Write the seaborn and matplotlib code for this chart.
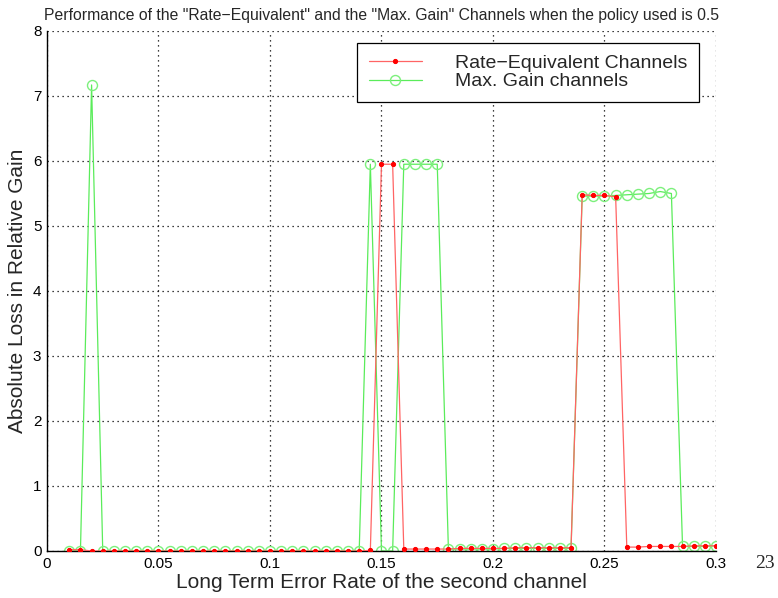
import matplotlib
matplotlib.use("Agg")
import matplotlib.pyplot as plt
import seaborn as sns
import pandas as pd

# Long-term error rate of the second channel
error_rate = [
    0.010, 0.015, 0.020, 0.025, 0.030, 0.035, 0.040, 0.045, 0.050, 0.055,
    0.060, 0.065, 0.070, 0.075, 0.080, 0.085, 0.090, 0.095, 0.100, 0.105,
    0.110, 0.115, 0.120, 0.125, 0.130, 0.135, 0.140, 0.145, 0.150, 0.155,
    0.160, 0.165, 0.170, 0.175, 0.180, 0.185, 0.190, 0.195, 0.200, 0.205,
    0.210, 0.215, 0.220, 0.225, 0.230, 0.235, 0.240, 0.245, 0.250, 0.255,
    0.260, 0.265, 0.270, 0.275, 0.280, 0.285, 0.290, 0.295, 0.300,
]

# Absolute loss in relative gain, rate-equivalent channels
rate_equivalent = [
    0.02, 0.02, 0.00, 0.00, 0.00, 0.00, 0.00, 0.00, 0.00, 0.00,
    0.00, 0.00, 0.00, 0.00, 0.00, 0.00, 0.00, 0.00, 0.00, 0.00,
    0.00, 0.00, 0.00, 0.00, 0.00, 0.00, 0.00, 0.01, 5.95, 5.95,
    0.03, 0.03, 0.03, 0.03, 0.03, 0.04, 0.04, 0.04, 0.04, 0.04,
    0.05, 0.05, 0.05, 0.05, 0.05, 0.05, 5.48, 5.47, 5.47, 5.45,
    0.06, 0.06, 0.07, 0.07, 0.07, 0.07, 0.08, 0.08, 0.08,
]

# Absolute loss in relative gain, max. gain channels
max_gain = [
    0.00, 0.00, 7.17, 0.00, 0.00, 0.00, 0.00, 0.00, 0.00, 0.00,
    0.00, 0.00, 0.00, 0.00, 0.00, 0.00, 0.00, 0.00, 0.00, 0.00,
    0.00, 0.00, 0.00, 0.00, 0.00, 0.00, 0.00, 5.95, 0.00, 0.00,
    5.95, 5.95, 5.95, 5.95, 0.03, 0.03, 0.03, 0.03, 0.03, 0.04,
    0.04, 0.04, 0.04, 0.04, 0.04, 0.04, 5.46, 5.46, 5.46, 5.47,
    5.48, 5.49, 5.50, 5.53, 5.50, 0.07, 0.07, 0.07, 0.08,
]

x_ticks = [0, 0.05, 0.1, 0.15, 0.2, 0.25, 0.3]
x_tick_labels = ["0", "0.05", "0.1", "0.15", "0.2", "0.25", "0.3"]
y_ticks = [0, 1, 2, 3, 4, 5, 6, 7, 8]

df = pd.DataFrame({
    "rate": error_rate,
    "rate_eq": rate_equivalent,
    "max_gain": max_gain,
})

sns.set_style("white")
plt.rcParams["font.family"] = ["Liberation Sans", "DejaVu Sans"]

fig = plt.figure(figsize=(7.78, 5.98), dpi=100)
ax = fig.add_axes([0.0604, 0.0786, 0.8599, 0.8696])

sns.lineplot(data=df, x="rate", y="rate_eq", ax=ax, estimator=None,
             color="#ff6464", linewidth=0.9, marker="o", markersize=3.0,
             markerfacecolor="#ff0000", markeredgecolor="#ff0000",
             label="Rate\u2212Equivalent Channels", zorder=3)
sns.lineplot(data=df, x="rate", y="max_gain", ax=ax, estimator=None,
             color="#5aec5a", linewidth=0.9, marker="o", markersize=7.2,
             markerfacecolor="none", markeredgecolor="#7cf07c",
             markeredgewidth=1.0, label="Max. Gain channels", zorder=2)

ax.set_xlim(0, 0.3)
ax.set_ylim(0, 8)
ax.set_xticks(x_ticks)
ax.set_xticklabels(x_tick_labels)
ax.set_yticks(y_ticks)
ax.tick_params(axis="both", direction="in", length=4, width=0.9,
               labelsize=11, colors="black", pad=4)

ax.grid(True, color="black", linestyle=(0, (1, 3)), linewidth=0.9)
for side in ("top", "right"):
    ax.spines[side].set_visible(False)
for side in ("left", "bottom"):
    ax.spines[side].set_color("black")
    ax.spines[side].set_linewidth(1.0)

ax.set_xlabel("Long Term Error Rate of the second channel", fontsize=15, labelpad=2)
ax.set_ylabel("Absolute Loss in Relative Gain", fontsize=15, labelpad=4)
ax.set_title('Performance of the "Rate\u2212Equivalent" and the "Max. Gain" '
             'Channels when the policy used is 0.5', fontsize=11.3, pad=8)

leg = ax.legend(loc="upper left", bbox_to_anchor=(357 / 778, 1 - 43 / 598),
                bbox_transform=fig.transFigure, fontsize=14, frameon=True,
                fancybox=False, shadow=False, borderaxespad=0, borderpad=0.6,
                handlelength=2.75, handletextpad=1.7, labelspacing=0.03,
                framealpha=1)
leg.get_frame().set_edgecolor("black")
leg.get_frame().set_linewidth(0.9)

fig.text(765 / 778, 1 - 563 / 598, "23", fontsize=14, ha="center", va="center",
         family=["Liberation Serif", "DejaVu Serif"])

fig.savefig("out.png", dpi=100)
